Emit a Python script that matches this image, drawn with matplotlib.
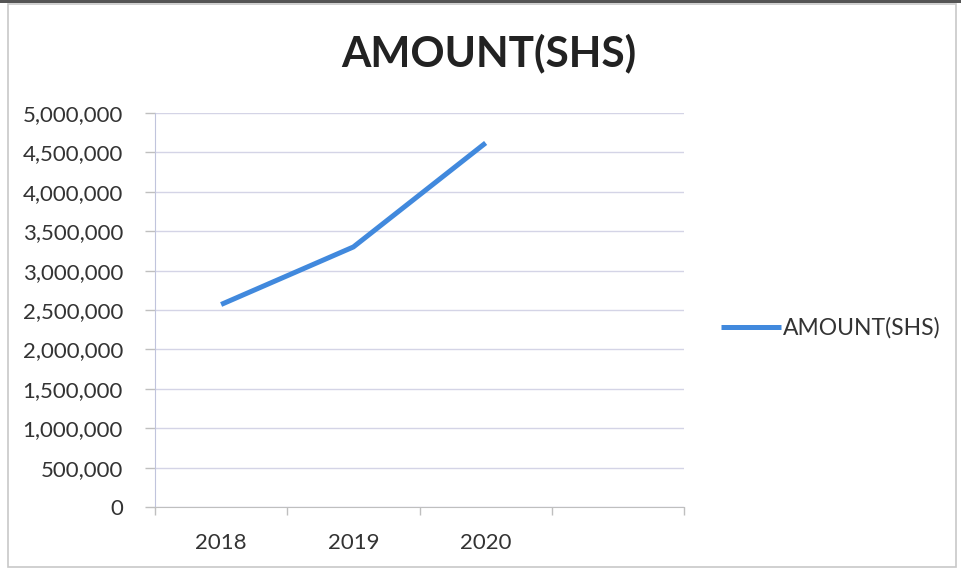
import matplotlib
matplotlib.use("Agg")
import matplotlib.pyplot as plt
from matplotlib.ticker import FuncFormatter, FixedLocator, MultipleLocator
from matplotlib.patches import Rectangle

categories = ["2018", "2019", "2020"]
amounts = [2570000, 3300000, 4620000]
series_name = "AMOUNT(SHS)"
title = "AMOUNT(SHS)"
n_slots = 4  # Excel category axis leaves an extra empty slot

plt.rcParams['font.family'] = ['Lato', 'DejaVu Sans']

W, H = 961, 571
fig = plt.figure(figsize=(W / 100, H / 100), dpi=100)
fig.patch.set_facecolor('white')

# outer frame
fig.patches.append(Rectangle((8 / W, 4 / H), (956 - 8) / W, (H - 8) / H,
                             transform=fig.transFigure, fill=False,
                             edgecolor='#c8c8c8', linewidth=1.2))
fig.patches.append(Rectangle((0, (H - 3) / H), 1, 3 / H,
                             transform=fig.transFigure, facecolor='#555555',
                             edgecolor='none'))

left, right, top, bottom = 155, 684, 113, 507
ax = fig.add_axes([left / W, (H - bottom) / H, (right - left) / W, (bottom - top) / H])

x = list(range(len(categories)))
ax.plot(x, amounts, color='#4189DD', linewidth=3.6, solid_capstyle='butt',
        label=series_name)

ax.set_xlim(-0.5, n_slots - 0.5)
ax.set_ylim(0, 5000000)

ax.yaxis.set_major_locator(MultipleLocator(500000))
ax.yaxis.set_major_formatter(FuncFormatter(lambda v, p: f"{int(v):,}"))
ax.grid(axis='y', color='#d4d4e6', linewidth=1.0)
ax.set_axisbelow(True)

ax.xaxis.set_major_locator(FixedLocator(x))
ax.set_xticklabels(categories)
ax.xaxis.set_minor_locator(FixedLocator([i - 0.5 for i in range(n_slots + 1)]))
ax.tick_params(axis='x', which='major', length=0, pad=19, labelsize=16,
               labelcolor='#333333')
ax.tick_params(axis='x', which='minor', length=6, color='#bfbfbf', width=1)
ax.tick_params(axis='y', which='major', length=7, color='#bfbfbf', width=1,
               pad=16, labelsize=16, labelcolor='#333333')

for s in ['top', 'right']:
    ax.spines[s].set_visible(False)
ax.spines['left'].set_color('#c0c4dc')
ax.spines['bottom'].set_color('#bfbfbf')

fig.text(489 / W, (H - 53) / H, title, ha='center', va='center',
         fontsize=30.5, fontweight='bold', color='#222222')

leg = fig.legend(loc='center left', bbox_to_anchor=(721 / W, (H - 328) / H),
                 frameon=False, fontsize=16.5, handlelength=2.6,
                 handletextpad=0.1, borderaxespad=0, borderpad=0)
for t in leg.get_texts():
    t.set_color('#333333')

fig.savefig('out.png', dpi=100)
